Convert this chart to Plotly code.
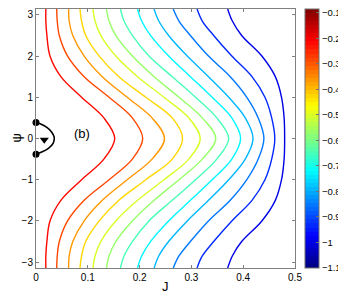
import numpy as np
import plotly.graph_objects as go

# psi sample points (upper half; curves are mirror-symmetric in psi)
psi_half = [0.0, 0.5, 1.0, 1.5, 2.0, 2.5, 2.85, np.pi]

# contour levels (colour values) and J positions read at psi_half
levels = [-0.22, -0.29, -0.36, -0.43, -0.50, -0.57, -0.65, -0.72, -0.79, -0.86, -0.93, -1.00]
contour_J = [
    [0.152, 0.131, 0.088, 0.048, 0.027, 0.021, 0.019, 0.019],
    [0.206, 0.186, 0.141, 0.093, 0.061, 0.045, 0.041, 0.040],
    [0.248, 0.224, 0.176, 0.128, 0.093, 0.071, 0.064, 0.063],
    [0.283, 0.263, 0.212, 0.160, 0.122, 0.096, 0.088, 0.085],
    [0.317, 0.295, 0.247, 0.196, 0.154, 0.125, 0.114, 0.110],
    [0.347, 0.321, 0.276, 0.228, 0.186, 0.154, 0.141, 0.136],
    [0.372, 0.349, 0.308, 0.263, 0.218, 0.186, 0.170, 0.163],
    [0.395, 0.378, 0.340, 0.298, 0.256, 0.221, 0.204, 0.196],
    [0.419, 0.404, 0.372, 0.333, 0.292, 0.256, 0.237, 0.228],
    [0.440, 0.429, 0.407, 0.375, 0.333, 0.298, 0.276, 0.265],
    [0.461, 0.455, 0.442, 0.417, 0.378, 0.343, 0.321, 0.311],
    [0.480, 0.479, 0.474, 0.462, 0.436, 0.397, 0.379, 0.370],
]

# black orbit curve (b)
orbit_J = [0.0, 0.008, 0.021, 0.030, 0.035, 0.033, 0.024, 0.011, 0.0]
orbit_psi = [0.39, 0.36, 0.27, 0.16, 0.04, -0.12, -0.24, -0.33, -0.38]
dots_J = [0.0, 0.0]
dots_psi = [0.39, -0.38]
arrow_J = [0.016]
arrow_psi = [-0.03]

cmin, cmax = -1.1, -0.085
x_ticks = [0, 0.1, 0.2, 0.3, 0.4, 0.5]
y_ticks = [-3, -2, -1, 0, 1, 2, 3]
cb_ticks = [-0.1, -0.2, -0.3, -0.4, -0.5, -0.6, -0.7, -0.8, -0.9, -1.0, -1.1]
cb_labels = ["\u22120.1", "\u22120.2", "\u22120.3", "\u22120.4", "\u22120.5", "\u22120.6",
             "\u22120.7", "\u22120.8", "\u22120.9", "\u22121", "\u22121.1"]


def jet(f):
    r = min(max(1.5 - abs(4 * f - 3), 0), 1)
    g = min(max(1.5 - abs(4 * f - 2), 0), 1)
    b = min(max(1.5 - abs(4 * f - 1), 0), 1)
    return "rgb(%d,%d,%d)" % (round(r * 255), round(g * 255), round(b * 255))


N = 64
jet_scale = []
for i in range(N):
    c = jet((i + 0.5) / N)
    jet_scale.append([i / N, c])
    jet_scale.append([(i + 1) / N, c])

fig = go.Figure()

psi_full = [-p for p in psi_half[::-1]] + psi_half[1:]
for lev, Js in zip(levels, contour_J):
    J_full = Js[::-1] + Js[1:]
    f = (lev - cmin) / (cmax - cmin)
    f = (np.floor(f * N) + 0.5) / N
    fig.add_trace(go.Scatter(x=J_full, y=psi_full, mode="lines",
                             line=dict(color=jet(f), width=1.4, shape="spline", smoothing=1.0),
                             showlegend=False, hoverinfo="skip"))

fig.add_trace(go.Scatter(x=orbit_J, y=orbit_psi, mode="lines",
                         line=dict(color="black", width=1.6, shape="spline"),
                         showlegend=False, cliponaxis=False))
fig.add_trace(go.Scatter(x=dots_J, y=dots_psi, mode="markers",
                         marker=dict(color="black", size=7),
                         showlegend=False, cliponaxis=False))
fig.add_trace(go.Scatter(x=arrow_J, y=arrow_psi, mode="markers",
                         marker=dict(color="black", size=8, symbol="triangle-down"),
                         showlegend=False))

# colorbar carrier
fig.add_trace(go.Scatter(x=[None], y=[None], mode="markers", showlegend=False,
                         marker=dict(color=[cmin, cmax], cmin=cmin, cmax=cmax,
                                     colorscale=jet_scale, showscale=True,
                                     colorbar=dict(x=1.0386, xanchor="left", xpad=0,
                                                   y=0.5, yanchor="middle", len=1.0, ypad=0,
                                                   thickness=14, outlinecolor="#707070",
                                                   outlinewidth=1,
                                                   tickvals=cb_ticks, ticktext=cb_labels,
                                                   ticks="inside", ticklen=3,
                                                   ticklabeloverflow="allow",
                                                   tickcolor="#707070",
                                                   tickfont=dict(size=9.5, color="black")))))

fig.add_annotation(x=0.088, y=0.12, text="(b)", showarrow=False,
                   font=dict(size=13, color="black"))
fig.add_annotation(x=0.5, y=-0.073, xref="paper", yref="paper", text="J", showarrow=False,
                   xanchor="center", yanchor="middle", font=dict(size=13, color="black"))
fig.add_annotation(x=-0.077, y=0.5, xref="paper", yref="paper", text="\u03c8", showarrow=False,
                   textangle=-90, xanchor="center", yanchor="middle",
                   font=dict(size=13, color="black"))

axis_common = dict(showgrid=False, zeroline=False, showline=True, linecolor="#808080",
                   linewidth=1, mirror="ticks", ticks="inside", ticklen=3, automargin=False,
                   tickcolor="#808080", tickfont=dict(size=10, color="black"))

fig.update_xaxes(range=[0, 0.5], tickvals=x_ticks, ticktext=["0", "0.1", "0.2", "0.3", "0.4", "0.5"],
                 **axis_common)
fig.update_yaxes(range=[-np.pi, np.pi], tickvals=y_ticks, **axis_common)

# page body has an 8px default margin, so the figure is sized/offset to compensate
fig.update_layout(width=338, height=290,
                  margin=dict(l=28, r=51, t=1, b=30, autoexpand=False),
                  plot_bgcolor="white", paper_bgcolor="white",
                  font=dict(family="Liberation Sans, Arial, sans-serif", color="black"))

fig.write_html("out.html")
